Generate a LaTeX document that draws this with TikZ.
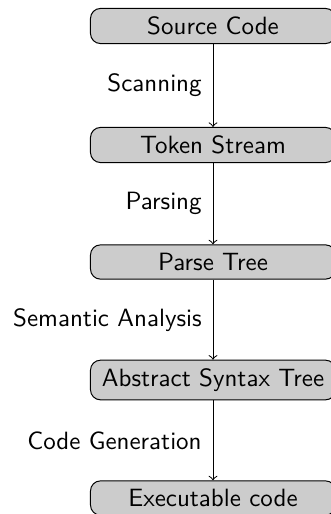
\documentclass[tikz,border=0pt]{standalone}
\begin{document}
\begin{tikzpicture}[x=0.4pt, y=-0.4pt, font=\sffamily,
  stage/.style={draw, fill=gray!40, rounded corners, minimum width=98pt},
  flow/.style={->},
  phase/.style={left=1pt}]
  \useasboundingbox (0,0) rectangle (331,514);

  % compiler stages
  \node[stage] (src) at (213,26)  {Source Code};
  \node[stage] (tok) at (213,145) {Token Stream};
  \node[stage] (pt)  at (213,262) {Parse Tree};
  \node[stage] (ast) at (213,380) {Abstract Syntax Tree};
  \node[stage] (exe) at (213,498) {Executable code};

  % compiler phases
  \draw[flow] (src) -- node[phase] (scan) {Scanning} (tok);
  \draw[flow] (tok) -- node[phase] (pars) {Parsing} (pt);
  \draw[flow] (pt)  -- node[phase] (sem)  {Semantic Analysis} (ast);
  \draw[flow] (ast) -- node[phase] (gen)  {Code Generation} (exe);
\end{tikzpicture}
\end{document}
